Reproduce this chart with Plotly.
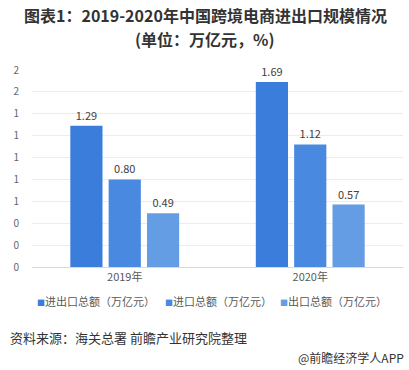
import plotly.graph_objects as go

categories = ["2019年", "2020年"]
series_names = ["进出口总额（万亿元）", "进口总额（万亿元）", "出口总额（万亿元）"]
total_values = [1.29, 1.69]
import_values = [0.80, 1.12]
export_values = [0.49, 0.57]
series_colors = ["#3b7ddb", "#4a89e0", "#659de5"]
ytick_values = [0, 0.2, 0.4, 0.6, 0.8, 1.0, 1.2, 1.4, 1.6, 1.8]
ytick_labels = ["0", "0", "0", "1", "1", "1", "1", "1", "2", "2"]

FONT = "Noto Sans CJK SC"
W, H = 409, 370
L, R, T, B = 32, 6, 70, 103
PH = H - T - B
PW = W - L - R


def px_x(x):
    return (x - L) / PW


def px_y(y):
    return (H - B - y) / PH


fig = go.Figure()
for name, vals, col in zip(series_names, [total_values, import_values, export_values], series_colors):
    fig.add_trace(go.Bar(
        x=categories, y=vals, name=name, marker=dict(color=col, line=dict(width=0)),
        text=[f"{v:.2f}" for v in vals], textposition="outside", cliponaxis=False,
        textfont=dict(family=FONT, size=11, color="#404040"), showlegend=False,
    ))

fig.update_layout(
    width=W, height=H,
    margin=dict(l=L, r=R, t=T, b=B, autoexpand=False),
    paper_bgcolor="white", plot_bgcolor="white",
    barmode="group", bargap=0.38, bargroupgap=0.16,
    font=dict(family=FONT, color="#333333"),
    xaxis=dict(
        showline=True, linecolor="#d9d9d9", linewidth=1, ticks="", automargin=False,
        tickfont=dict(family=FONT, size=11, color="#595959"),
    ),
    yaxis=dict(
        range=[0, 1.8], tickvals=ytick_values, ticktext=ytick_labels, automargin=False,
        showgrid=True, gridcolor="#ececec", gridwidth=1, zeroline=False,
        tickfont=dict(family=FONT, size=10, color="#666666"), ticklabelstandoff=12,
    ),
)

# Title (two lines)
for txt, yp in [("图表1：2019-2020年中国跨境电商进出口规模情况", 15), ("(单位：万亿元，%)", 39)]:
    fig.add_annotation(
        xref="paper", yref="paper", x=px_x(205), y=px_y(yp), xanchor="center", yanchor="middle",
        text=f"<b>{txt}</b>", showarrow=False,
        font=dict(family=FONT, size=16, color="#333333"),
    )

# Legend rendered as annotations (compact, like the reference)
legend_x = [35, 163, 278]
for name, col, xp in zip(series_names, series_colors, legend_x):
    fig.add_annotation(
        xref="paper", yref="paper",
        x=px_x(xp), y=px_y(301), xanchor="left", yanchor="middle",
        text=f"<span style='color:{col};font-size:8px'>■</span>{name}",
        showarrow=False, font=dict(family=FONT, size=11, color="#595959"),
    )

fig.add_annotation(
    xref="paper", yref="paper", x=px_x(8), y=px_y(337),
    xanchor="left", yanchor="middle", showarrow=False,
    text="资料来源：海关总署 前瞻产业研究院整理",
    font=dict(family=FONT, size=13, color="#333333"),
)
fig.add_annotation(
    xref="paper", yref="paper", x=px_x(406), y=px_y(357),
    xanchor="right", yanchor="middle", showarrow=False,
    text="@前瞻经济学人APP",
    font=dict(family=FONT, size=12, color="#333333"),
)

fig.write_html(
    "out.html",
    config={"displayModeBar": False},
    post_script="document.body.style.margin='0';document.body.style.padding='0';",
)
